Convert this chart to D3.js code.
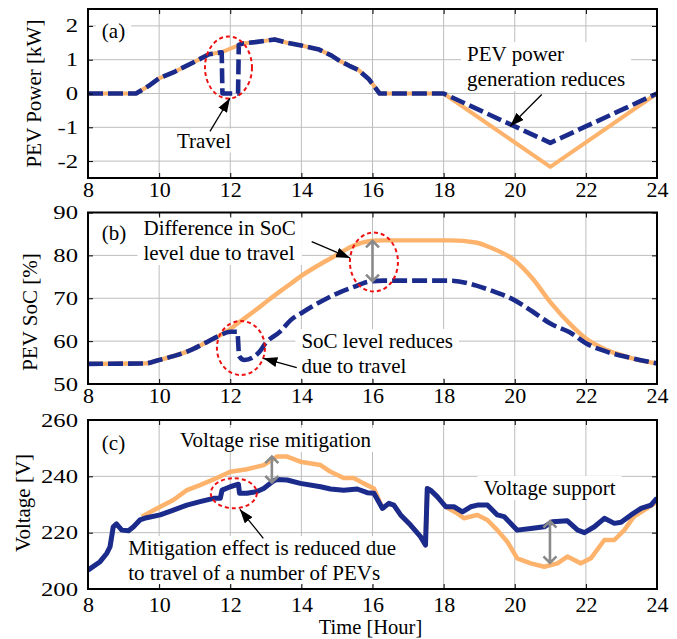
<!DOCTYPE html>
<html><head><meta charset="utf-8">
<script src="https://cdn.jsdelivr.net/npm/d3@7"></script>
<style>body{margin:0;background:#fff;} svg{display:block;}</style>
</head><body>
<svg id="chart" width="677" height="639"></svg>
<script>
// ---------------- DATA ----------------
const xTicks = [8, 10, 12, 14, 16, 18, 20, 22, 24];
const xTickLabels = ["8", "10", "12", "14", "16", "18", "20", "22", "24"];

// (a) PEV power [kW]
const hoursA = [8, 9.35, 9.7, 10.0, 10.45, 11.0, 11.4, 11.76, 11.78, 12.22, 12.24, 12.35, 12.7, 13.25, 13.6, 14.0, 14.5, 14.85, 15.1, 15.35, 15.6, 15.9, 16.2, 18.0, 21.0, 24.0];
const powerNoTravel = [0, 0, 0.22, 0.45, 0.65, 0.94, 1.16, 1.22, 1.23, 1.42, 1.44, 1.48, 1.52, 1.6, 1.5, 1.42, 1.3, 1.12, 0.95, 0.82, 0.7, 0.42, 0, 0, -2.17, 0];
const powerTravel   = [0, 0, 0.22, 0.45, 0.65, 0.94, 1.16, 1.22, 0, 0, 1.44, 1.48, 1.52, 1.6, 1.5, 1.42, 1.3, 1.12, 0.95, 0.82, 0.7, 0.42, 0, 0, -1.46, 0];
const yTicksA = [-2, -1, 0, 1, 2];
const yTickLabelsA = ["-2", "-1", "0", "1", "2"];

// (b) PEV SoC [%]
const hoursB = [8, 9.6, 10.0, 10.4, 10.8, 11.3, 11.7, 12.0, 12.2, 12.25, 12.4, 12.8, 13.0, 13.4, 13.7, 14.05, 14.5, 15.0, 15.4, 16.0, 16.3, 18.2, 18.9, 19.3, 20.0, 20.5, 21.0, 21.6, 22.0, 22.6, 23.3, 24.0];
const socNoTravel = [54.7, 54.8, 55.6, 56.5, 57.6, 59.6, 61.3, 62.8, 64.1, 64.4, 65.3, 67.8, 69.1, 71.6, 73.4, 75.5, 77.8, 80.1, 82.0, 83.4, 83.5, 83.5, 83.0, 81.9, 78.8, 74.6, 69.1, 63.6, 60.6, 57.9, 56.0, 54.8];
const socTravel   = [54.7, 54.8, 55.6, 56.5, 57.6, 59.6, 61.3, 62.2, 62.2, 56.5, 55.6, 57.3, 59.6, 62.2, 64.9, 66.8, 69.0, 71.1, 72.4, 74.0, 74.1, 74.1, 73.0, 71.9, 69.5, 66.9, 64.1, 61.8, 59.5, 57.5, 56.0, 54.8];
const yTicksB = [50, 60, 70, 80, 90];
const yTickLabelsB = ["50", "60", "70", "80", "90"];

// (c) Voltage [V]
const hoursVTravel = [8.0, 8.34, 8.53, 8.62, 8.71, 8.8, 8.95, 9.14, 9.28, 9.46, 9.65, 10.03, 10.4, 10.78, 11.15, 11.53, 11.72, 11.77, 12.0, 12.23, 12.26, 12.47, 12.75, 12.94, 13.22, 13.31, 13.6, 13.97, 14.54, 14.82, 15.19, 15.57, 15.85, 16.04, 16.28, 16.46, 16.6, 16.79, 17.07, 17.35, 17.49, 17.54, 17.63, 17.82, 18.06, 18.29, 18.53, 18.76, 18.95, 19.23, 19.51, 19.7, 20.07, 20.45, 20.83, 21.06, 21.48, 21.77, 21.96, 22.24, 22.52, 22.8, 22.99, 23.27, 23.55, 23.83, 24.0];
const voltTravel   = [206.7, 209.7, 212.7, 215.0, 222.1, 223.1, 220.9, 220.7, 222.1, 224.5, 225.3, 226.3, 228.0, 229.8, 231.0, 232.2, 232.2, 235.1, 236.3, 237.2, 234.0, 234.0, 234.6, 235.7, 238.4, 238.9, 238.7, 237.5, 236.3, 235.5, 235.1, 235.5, 234.2, 234.0, 228.6, 230.4, 229.8, 226.3, 222.7, 218.6, 215.6, 235.7, 235.1, 232.8, 229.2, 229.2, 227.4, 229.2, 229.8, 229.8, 226.3, 225.7, 220.9, 221.5, 222.1, 223.9, 224.2, 220.9, 220.0, 222.1, 225.1, 223.3, 223.7, 226.3, 228.6, 229.8, 232.3];
const hoursVNoTravel = [9.51, 10.03, 10.4, 10.78, 11.15, 11.53, 12.0, 12.47, 12.94, 13.31, 13.6, 13.97, 14.54, 14.82, 15.19, 15.47, 15.75, 16.04, 16.28, 16.46, 16.6, 16.79, 17.07, 17.35, 17.49, 17.54, 17.63, 17.82, 18.06, 18.38, 18.57, 18.95, 19.23, 19.51, 19.79, 20.07, 20.45, 20.83, 21.2, 21.48, 21.86, 22.14, 22.52, 22.8, 23.08, 23.35, 23.64, 24.0];
const voltNoTravel   = [225.7, 229.2, 231.6, 235.1, 236.9, 238.9, 241.6, 242.5, 244.0, 247.0, 247.0, 245.2, 244.0, 241.6, 239.4, 239.4, 237.5, 235.7, 228.6, 230.4, 229.8, 226.3, 222.7, 218.6, 215.6, 235.7, 235.1, 232.8, 229.2, 226.9, 225.1, 226.3, 224.5, 220.9, 216.8, 210.9, 209.1, 207.9, 209.1, 211.5, 209.1, 210.9, 217.4, 217.4, 220.9, 225.7, 228.0, 231.0];
const yTicksC = [200, 220, 240, 260];
const yTickLabelsC = ["200", "220", "240", "260"];

// ---------------- STYLE ----------------
const FONT = '"Liberation Serif","Times New Roman",Times,serif';
const ORANGE = "#fdb36c", BLUE = "#1b2b8b", GRID = "#bdbdbd", GRAYARROW = "#8a8a8a", RED = "#ee1111";
const PL = 88, PR = 657;

const svg = d3.select("#chart");
const defs = svg.append("defs");
defs.append("marker").attr("id", "ah").attr("viewBox", "0 0 14 10")
  .attr("refX", 14).attr("refY", 5).attr("markerWidth", 14).attr("markerHeight", 10)
  .attr("markerUnits", "userSpaceOnUse").attr("orient", "auto")
  .append("path").attr("d", "M0,0L14,5L0,10Z").attr("fill", "#000");

const x = d3.scaleLinear().domain([8, 24]).range([PL, PR]);

const panels = [
  { key: "a", top: 9, bottom: 178, domain: [-2.5, 2.5], ticks: yTicksA, labels: yTickLabelsA, xPad: 3.5,
    title: "PEV Power [kW]", titleX: 41, titleY: 93.5, curve: d3.curveLinear,
    series: [
      { h: hoursA, v: powerNoTravel, color: ORANGE, w: 4, dash: null },
      { h: hoursA, v: powerTravel, color: BLUE, w: 4.6, dash: "15,5" } ],
    texts: [
      { h: 8.39, v: 1.64, lines: ["(a)"] },
      { h: 10.5, v: -1.6, lines: ["Travel"] },
      { h: 18.66, v: 0.96, lines: ["PEV power", "generation reduces"] } ],
    arrows: [ { from: [11.43, -1.12], to: [11.99, -0.14] }, { from: [20.76, -0.03], to: [19.87, -0.97] } ],
    ellipses: [ { h: 11.95, v: 0.77, rx: 23.5, ry: 31 } ],
    dbl: [] },
  { key: "b", top: 212.5, bottom: 384, domain: [50, 90], ticks: yTicksB, labels: yTickLabelsB, xPad: 3.5,
    title: "PEV SoC [%]", titleX: 37, titleY: 312, curve: d3.curveMonotoneX,
    series: [
      { h: hoursB, v: socNoTravel, color: ORANGE, w: 4.4, dash: null },
      { h: hoursB, v: socTravel, color: BLUE, w: 4.6, dash: "15,5" } ],
    texts: [
      { h: 8.39, v: 83.59, lines: ["(b)"] },
      { h: 9.56, v: 84.75, lines: ["Difference in SoC", "level due to travel"] },
      { h: 14.0, v: 58.4, lines: ["SoC level reduces", "due to travel"] } ],
    arrows: [ { from: [14.29, 83.19], to: [15.37, 79.39] }, { from: [13.87, 53.8], to: [12.93, 56.0] } ],
    ellipses: [ { h: 16.04, v: 78.45, rx: 24, ry: 29.5 }, { h: 12.3, v: 58.4, rx: 24, ry: 27 } ],
    dbl: [ { h: 16.0, v1: 83.4, v2: 74.0 } ] },
  { key: "c", top: 420, bottom: 589, domain: [200, 260], ticks: yTicksC, labels: yTickLabelsC, xPad: 7,
    title: "Voltage [V]", titleX: 30, titleY: 503, curve: d3.curveLinear,
    series: [
      { h: hoursVNoTravel, v: voltNoTravel, color: ORANGE, w: 4.5, dash: null },
      { h: hoursVTravel, v: voltTravel, color: BLUE, w: 5, dash: null } ],
    texts: [
      { h: 8.39, v: 249.35, lines: ["(c)"] },
      { h: 10.59, v: 250.4, lines: ["Voltage rise mitigation"] },
      { h: 9.13, v: 212.07, lines: ["Mitigation effect is reduced due", "to travel of a number of PEVs"] },
      { h: 19.12, v: 233.4, lines: ["Voltage support"] } ],
    arrows: [ { from: [12.93, 218.0], to: [12.27, 228.3] } ],
    ellipses: [ { h: 12.1, v: 234.0, rx: 23, ry: 15 } ],
    dbl: [ { h: 13.17, v1: 247.0, v2: 237.8 }, { h: 20.99, v1: 224.1, v2: 209.3 } ] }
];

function styleAxis(s, size) {
  s.select(".domain").remove();
  s.attr("font-family", FONT).attr("font-size", size);
  s.selectAll("line").attr("stroke", "#000").attr("stroke-width", 1);
  s.selectAll("text").attr("fill", "#000");
}

panels.forEach(p => {
  const y = d3.scaleLinear().domain(p.domain).range([p.bottom, p.top]);
  const g = svg.append("g");
  const gGrid = g.append("g"), gBg = g.append("g");
  defs.append("clipPath").attr("id", "clip-" + p.key).append("rect")
    .attr("x", PL).attr("y", p.top).attr("width", PR - PL).attr("height", p.bottom - p.top);
  const gData = g.append("g").attr("clip-path", `url(#clip-${p.key})`);
  const gAnno = g.append("g"), gText = g.append("g"), gFrame = g.append("g");

  // grid
  gGrid.selectAll("line.gv").data(xTicks.filter(t => t > 8 && t < 24)).join("line").attr("class", "gv")
    .attr("x1", d => x(d)).attr("x2", d => x(d)).attr("y1", p.top).attr("y2", p.bottom)
    .attr("stroke", GRID).attr("stroke-width", 1);
  gGrid.selectAll("line.gh").data(p.ticks.filter(t => t > p.domain[0] && t < p.domain[1])).join("line").attr("class", "gh")
    .attr("x1", PL).attr("x2", PR).attr("y1", d => y(d)).attr("y2", d => y(d))
    .attr("stroke", GRID).attr("stroke-width", 1);

  // series
  const line = d3.line().curve(p.curve).x(d => x(d[0])).y(d => y(d[1]));
  p.series.forEach(s => {
    gData.append("path").datum(d3.zip(s.h, s.v)).attr("d", line)
      .attr("fill", "none").attr("stroke", s.color).attr("stroke-width", s.w)
      .attr("stroke-linejoin", "round").attr("stroke-dasharray", s.dash);
  });

  // ellipses
  p.ellipses.forEach(e => {
    gAnno.append("ellipse").attr("cx", x(e.h)).attr("cy", y(e.v)).attr("rx", e.rx).attr("ry", e.ry)
      .attr("fill", "none").attr("stroke", RED).attr("stroke-width", 2).attr("stroke-dasharray", "4,3");
  });
  // gray double arrows
  p.dbl.forEach(d => {
    const px = x(d.h), y1 = y(d.v1), y2 = y(d.v2);
    gAnno.append("path")
      .attr("d", `M${px},${y1}L${px},${y2}M${px - 6.5},${y1 + 6.5}L${px},${y1}L${px + 6.5},${y1 + 6.5}M${px - 6.5},${y2 - 6.5}L${px},${y2}L${px + 6.5},${y2 - 6.5}`)
      .attr("fill", "none").attr("stroke", GRAYARROW).attr("stroke-width", 2.6);
  });
  // black arrows
  p.arrows.forEach(a => {
    gAnno.append("line").attr("x1", x(a.from[0])).attr("y1", y(a.from[1]))
      .attr("x2", x(a.to[0])).attr("y2", y(a.to[1]))
      .attr("stroke", "#000").attr("stroke-width", 1.3).attr("marker-end", "url(#ah)");
  });
  // texts with white background
  p.texts.forEach(t => {
    const px = x(t.h), py = y(t.v);
    const el = gText.append("text").attr("x", px).attr("y", py)
      .attr("font-family", FONT).attr("font-size", 21).attr("fill", "#000");
    t.lines.forEach((l, i) => el.append("tspan").attr("x", px).attr("dy", i ? 25 : 0).text(l));
    const b = el.node().getBBox();
    gBg.append("rect").attr("x", b.x - 6).attr("y", b.y).attr("width", b.width + 12).attr("height", b.height)
      .attr("fill", "#fff");
  });

  // frame + axes
  gFrame.append("rect").attr("x", PL).attr("y", p.top).attr("width", PR - PL).attr("height", p.bottom - p.top)
    .attr("fill", "none").attr("stroke", "#000").attr("stroke-width", 2);
  gFrame.append("g").attr("transform", `translate(0,${p.bottom})`)
    .call(d3.axisBottom(x).tickValues(xTicks).tickSize(-5).tickPadding(p.xPad).tickFormat((d, i) => xTickLabels[i]))
    .call(s => styleAxis(s, 22));
  gFrame.append("g").attr("transform", `translate(0,${p.top})`)
    .call(d3.axisTop(x).tickValues(xTicks).tickSize(-5).tickFormat(""))
    .call(s => styleAxis(s, 22));
  const SX = 1.3;
  gFrame.append("g").attr("transform", `translate(${PL},0)`)
    .call(d3.axisLeft(y).tickValues(p.ticks).tickSize(-5).tickPadding(10).tickFormat((d, i) => p.labels[i]))
    .call(s => { styleAxis(s, 19); s.selectAll("text").attr("x", -10 / SX).attr("transform", `scale(${SX},1)`); });
  gFrame.append("g").attr("transform", `translate(${PR},0)`)
    .call(d3.axisRight(y).tickValues(p.ticks).tickSize(-5).tickFormat(""))
    .call(s => styleAxis(s, 19));

  // y title
  g.append("text").attr("transform", `translate(${p.titleX},${p.titleY}) rotate(-90)`)
    .attr("text-anchor", "middle").attr("font-family", FONT).attr("font-size", 21).attr("fill", "#000")
    .text(p.title);
});

svg.append("text").attr("x", (PL + PR) / 2 - 2).attr("y", 634).attr("text-anchor", "middle")
  .attr("font-family", FONT).attr("font-size", 20.5).attr("fill", "#000").text("Time [Hour]");
</script>
</body></html>
